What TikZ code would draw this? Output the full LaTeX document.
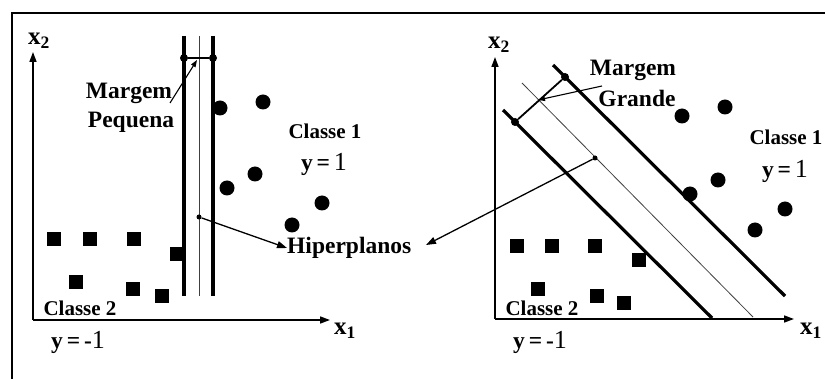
\documentclass[tikz,border=0pt]{standalone}
\usepackage{fontspec}
\setmainfont{Liberation Serif}
\usetikzlibrary{arrows.meta}
\begin{document}
\begin{tikzpicture}[x=1pt,y=-1pt,
  lab/.style={font=\fontsize{23.5}{23.5}\selectfont\bfseries, inner sep=0},
  cls/.style={font=\fontsize{21}{21}\selectfont\bfseries, inner sep=0},
  axl/.style={font=\fontsize{25}{25}\selectfont\bfseries, inner sep=0},
  dotp/.style={circle, fill, inner sep=0, minimum size=15pt},
  sq/.style={rectangle, fill, inner sep=0, minimum size=13.5pt},
  sv/.style={circle, fill, inner sep=0, minimum size=8pt},
  hp/.style={circle, fill, inner sep=0, minimum size=5pt},
  thickline/.style={line width=3.2pt},
  thinline/.style={line width=0.8pt, black!75},
  axis/.style={line width=1.6pt, -{Triangle[length=10pt,width=7pt]}},
  ptr/.style={line width=1.3pt, -{Triangle[length=10pt,width=7pt]}},
  sptr/.style={line width=1.1pt, -{Triangle[length=7pt,width=5pt]}},
  frame/.style={line width=1.8pt}
]
\useasboundingbox (0,0) rectangle (825,379);
% frame
\coordinate (fl) at (12,379);
\coordinate (ft) at (12,13);
\coordinate (fr) at (825,13);
\draw[frame] (fl) -- (ft) -- (fr);

% ================= LEFT PANEL =================
\coordinate (Lo) at (33,320);
\coordinate (Ly) at (33,52);
\coordinate (Lx) at (330,320);
\draw[axis] (Lo) -- (Ly);
\draw[axis] (Lo) -- (Lx);
\node[axl] (Lx2) at (39,41) {x\textsubscript{2}};
\node[axl] (Lx1) at (345,331) {x\textsubscript{1}};

% class 2 squares
\node[sq] (Ls1) at (54,239) {};
\node[sq] (Ls2) at (90,239) {};
\node[sq] (Ls3) at (134,239) {};
\node[sq] (Ls4) at (177,254) {};
\node[sq] (Ls5) at (76,282) {};
\node[sq] (Ls6) at (133,289) {};
\node[sq] (Ls7) at (162,296) {};
% class 1 circles
\node[dotp] (Lc1) at (220,108) {};
\node[dotp] (Lc2) at (263,102) {};
\node[dotp] (Lc3) at (255,174) {};
\node[dotp] (Lc4) at (227,188) {};
\node[dotp] (Lc5) at (322,203) {};
\node[dotp] (Lc6) at (292,225) {};

% hyperplanes
\coordinate (La1) at (184,36);
\coordinate (La2) at (184,296);
\coordinate (Lm1) at (199,36);
\coordinate (Lm2) at (199,296);
\coordinate (Lb1) at (213,36);
\coordinate (Lb2) at (213,296);
\draw[thickline] (La1) -- (La2);
\draw[thinline] (Lm1) -- (Lm2);
\draw[thickline] (Lb1) -- (Lb2);
\node[sv] (Lsv1) at (184,58) {};
\node[sv] (Lsv2) at (213,58) {};
\draw[line width=1.2pt] (Lsv1) -- (Lsv2);
\node[hp] (Lh) at (199,217) {};

\node[lab] (Lmar) at (129,93) {Margem};
\node[lab] (Lpeq) at (131,122) {Pequena};
\coordinate (Lmt) at (170,103);
\coordinate (Lmh) at (197,60);
\draw[sptr] (Lmt) -- (Lmh);

\node[cls] (Lc) at (325,131) {Classe 1};
\node[lab] (Ly1) at (324,164) {y\,=\,\fontsize{26}{26}\selectfont\mdseries 1};
\node[cls] (Lc2l) at (80,308) {Classe 2};
\node[lab] (Lym) at (78,342) {y\,=\,-\fontsize{26}{26}\selectfont\mdseries 1};

% Hiperplanos label
\node[lab, anchor=west] (hip) at (287,248) {Hiperplanos};
\draw[ptr] (Lh) -- (hip.west);

% ================= RIGHT PANEL =================
\coordinate (Ro) at (495,319);
\coordinate (Ry) at (495,57);
\coordinate (Rx) at (794,319);
\draw[axis] (Ro) -- (Ry);
\draw[axis] (Ro) -- (Rx);
\node[axl] (Rx2) at (499,45) {x\textsubscript{2}};
\node[axl] (Rx1) at (811,331) {x\textsubscript{1}};

% class 2 squares
\node[sq] (Rs1) at (517,246) {};
\node[sq] (Rs2) at (552,246) {};
\node[sq] (Rs3) at (595,246) {};
\node[sq] (Rs4) at (639,260) {};
\node[sq] (Rs5) at (538,289) {};
\node[sq] (Rs6) at (597,296) {};
\node[sq] (Rs7) at (624,303) {};
% class 1 circles
\node[dotp] (Rc1) at (682,116) {};
\node[dotp] (Rc2) at (725,107) {};
\node[dotp] (Rc3) at (718,180) {};
\node[dotp] (Rc4) at (690,194) {};
\node[dotp] (Rc5) at (785,209) {};
\node[dotp] (Rc6) at (755,230) {};

% hyperplanes
\coordinate (Ra1) at (503,110);
\coordinate (Ra2) at (712,318);
\coordinate (Rm1) at (522,83);
\coordinate (Rm2) at (753,317);
\coordinate (Rb1) at (553,65);
\coordinate (Rb2) at (785,296);
\draw[thickline] (Ra1) -- (Ra2);
\draw[thinline] (Rm1) -- (Rm2);
\draw[thickline] (Rb1) -- (Rb2);
\node[sv] (Rsv1) at (515,122) {};
\node[sv] (Rsv2) at (565,77) {};
\draw[line width=1.8pt] (Rsv1) -- (Rsv2);
\node[hp] (Rh) at (595,158) {};

\node[lab] (Rmar) at (633,70) {Margem};
\node[lab] (Rgra) at (637,98) {Grande};
\coordinate (Rmt) at (602,86);
\coordinate (Rmh) at (538,100);
\draw[sptr] (Rmt) -- (Rmh);

\node[cls] (Rc) at (786,137) {Classe 1};
\node[lab] (Ry1) at (785,171) {y\,=\,\fontsize{26}{26}\selectfont\mdseries 1};
\node[cls] (Rc2l) at (542,308) {Classe 2};
\node[lab] (Rym) at (540,342) {y\,=\,-\fontsize{26}{26}\selectfont\mdseries 1};

\coordinate (Rht) at (426,245);
\draw[ptr] (Rh) -- (Rht);
\end{tikzpicture}
\end{document}
